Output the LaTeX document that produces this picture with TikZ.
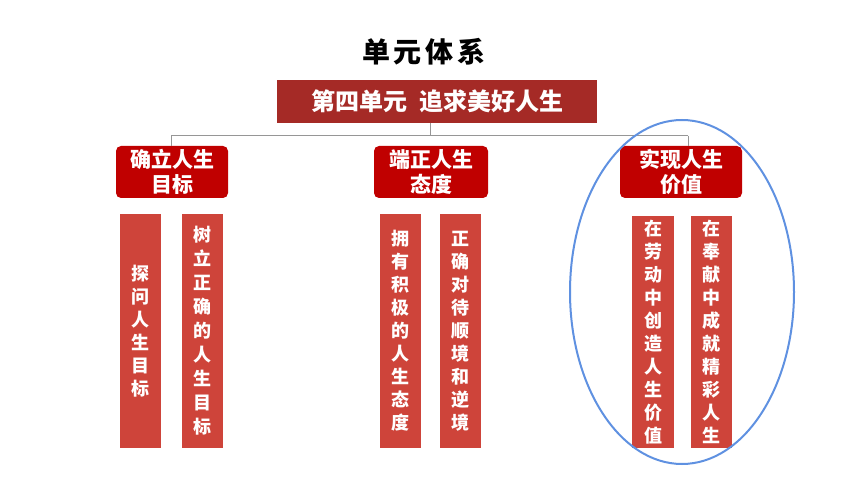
\documentclass[tikz,border=0pt]{standalone}
\usepackage{fontspec}
\setmainfont{Noto Sans CJK SC}
\definecolor{bannerred}{RGB}{165,42,38}
\definecolor{boxred}{RGB}{192,0,0}
\definecolor{barred}{RGB}{206,68,58}
\definecolor{conngray}{RGB}{150,150,150}
\definecolor{ellblue}{RGB}{95,145,225}
\begin{document}
\begin{tikzpicture}[x=1pt,y=-1pt,
  titlestyle/.style={font=\fontsize{28}{32}\selectfont\bfseries, text=black, inner sep=0pt},
  bannerbox/.style={fill=bannerred, text=white, font=\fontsize{24}{28}\selectfont\bfseries,
     minimum width=320pt, minimum height=43pt, inner sep=0pt},
  headbox/.style={fill=boxred, text=white, rounded corners=5pt, align=center,
     font=\fontsize{21}{25}\selectfont\bfseries, minimum height=52pt, inner sep=0pt},
  barbox/.style={fill=barred, text=white, align=center, inner sep=0pt,
     minimum width=41pt, minimum height=234pt},
  bartext/.style={font=\fontsize{18}{23}\selectfont\bfseries},
  conn/.style={draw=conngray, line width=1pt}
]
\useasboundingbox (0,0) rectangle (860,484);
\node[titlestyle] (title) at (424,52) {单\hspace{4pt}元\hspace{4pt}体\hspace{4pt}系};
\node[bannerbox] (banner) at (437,101.5) {第四单元\hspace{12pt}追求美好人生};

\node[headbox, minimum width=112pt] (h1) at (172,172) {确立人生\\目标};
\node[headbox, minimum width=114pt] (h2) at (431,172) {端正人生\\态度};
\node[headbox, minimum width=122pt] (h3) at (681,172) {实现人生\\价值};

\coordinate (j) at (430,136);
\coordinate (a1) at (171,136);
\coordinate (a2) at (688,136);
\draw[conn] (banner.south -| j) -- (j);
\draw[conn] (a1) -- (a2);
\draw[conn] (a1) -- (a1 |- h1.north);
\draw[conn] (a2) -- (a2 |- h3.north);

\node[barbox, bartext] (b1) at (140.5,331) {探\\问\\人\\生\\目\\标};
\node[barbox, font=\fontsize{18}{24}\selectfont\bfseries] (b2) at (202,331) {树\\立\\正\\确\\的\\人\\生\\目\\标};
\node[barbox, bartext] (b3) at (400,331) {拥\\有\\积\\极\\的\\人\\生\\态\\度};
\node[barbox, bartext] (b4) at (460.5,331) {正\\确\\对\\待\\顺\\境\\和\\逆\\境};
\node[barbox, bartext, minimum height=232pt, minimum width=42pt] (b5) at (653,332) {在\\劳\\动\\中\\创\\造\\人\\生\\价\\值};
\node[barbox, bartext, minimum height=232pt, minimum width=41pt] (b6) at (711.5,332) {在\\奉\\献\\中\\成\\就\\精\\彩\\人\\生};

\draw[ellblue, line width=2pt] (682,292) ellipse [x radius=112, y radius=172];
\end{tikzpicture}
\end{document}
